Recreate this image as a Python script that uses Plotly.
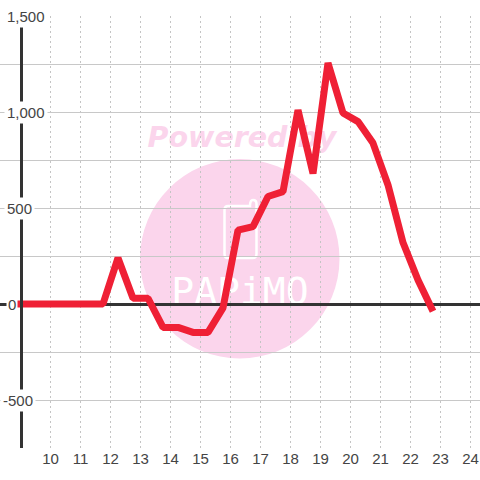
import plotly.graph_objects as go

hours = [8.75 + 0.5 * i for i in range(29)]
values = [0, 0, 0, 0, 0, 0, 0, 240, 30, 30, -122, -122, -148, -148, -20, 385, 403,
          560, 585, 1010, 680, 1255, 995, 950, 838, 620, 320, 125, -38]
x_ticks = list(range(10, 25))
y_labels = [(1500, "1,500"), (1000, "1,000"), (500, "500"), (0, "0"), (-500, "-500")]
label_left = {1500: 4, 1000: 4, 500: 4, 0: 6, -500: 0}
label_pad = {1500: 2, 1000: 2, 500: 2, 0: 1, -500: 2}

W = 480
H = 480
T = 16
B = 32
px = lambda v: v / W
py = lambda v: 1 - (v - T) / (H - T - B)
PINK = "#fbd5ec"


def logo_path():
    pts = [("M", 228, 206), ("L", 250, 206), ("Q", 250, 200, 253, 200), ("Q", 256.5, 200, 256.5, 204),
           ("L", 256.5, 254), ("Q", 256.5, 258, 252.5, 258), ("L", 228, 258),
           ("Q", 224.5, 258, 224.5, 254), ("L", 224.5, 210), ("Q", 224.5, 206, 228, 206)]
    out = []
    for p in pts:
        coords = p[1:]
        s = " ".join(f"{px(coords[i]):.5f},{py(coords[i + 1]):.5f}" for i in range(0, len(coords), 2))
        out.append(f"{p[0]} {s}")
    return " ".join(out) + " Z"


fig = go.Figure(go.Scatter(x=hours, y=values, mode="lines",
                           line=dict(color="#ef2035", width=7), hoverinfo="skip"))

shapes = [
    dict(type="circle", xref="paper", yref="paper", layer="below",
         x0=px(140), x1=px(339.5), y0=py(358.5), y1=py(159), fillcolor=PINK, line_width=0),
    dict(type="rect", xref="paper", yref="paper", layer="below",
         x0=px(140), x1=px(344), y0=py(152), y1=py(118), fillcolor="rgba(0,0,0,0)", line_width=0,
         label=dict(text="Powered by", textposition="middle center",
                    font=dict(family="DejaVu Sans", size=28.5, color=PINK, weight="bold", style="italic"))),
    dict(type="path", xref="paper", yref="paper", layer="below", path=logo_path(),
         line=dict(color="white", width=2.5)),
    dict(type="rect", xref="paper", yref="paper", layer="below",
         x0=px(140), x1=px(340), y0=py(309), y1=py(267), fillcolor="rgba(0,0,0,0)", line_width=0,
         label=dict(text="PAPiMO", textposition="middle center",
                    font=dict(family="DejaVu Sans Mono", size=38, color="white"))),
]

annotations = [
    dict(x=0, xref="paper", y=v, yref="y", text=t, showarrow=False, xanchor="left", yanchor="middle",
         xshift=label_left[v], bgcolor="white", borderpad=label_pad[v],
         font=dict(family="Liberation Sans", size=15, color="#444"))
    for v, t in y_labels
]

fig.update_layout(
    width=W, height=H,
    margin=dict(l=0, r=0, t=T, b=B, pad=0),
    paper_bgcolor="white",
    plot_bgcolor="rgba(0,0,0,0)",
    showlegend=False,
    shapes=shapes,
    annotations=annotations,
    xaxis=dict(range=[9 - 20.5 / 30, 9 + 459.5 / 30], tickvals=x_ticks, ticks="",
               showgrid=True, gridcolor="#c4c4c4", gridwidth=1, griddash="2px,3px",
               zeroline=False, showline=False,
               tickfont=dict(family="Liberation Sans", size=15, color="#444")),
    yaxis=dict(range=[-750, 1500], dtick=250, tick0=0, showticklabels=False, ticks="",
               showgrid=True, gridcolor="#c8c8c8", gridwidth=1,
               zeroline=True, zerolinecolor="#333", zerolinewidth=3,
               showline=True, linecolor="#333", linewidth=3,
               anchor="free", position=20.5 / W),
)

fig.write_html("out.html", config=dict(displayModeBar=False),
               post_script="document.documentElement.style.margin='0';document.body.style.margin='0';"
                           "document.querySelectorAll('.js-line').forEach(function(e){e.style.strokeLinejoin='bevel';});")
